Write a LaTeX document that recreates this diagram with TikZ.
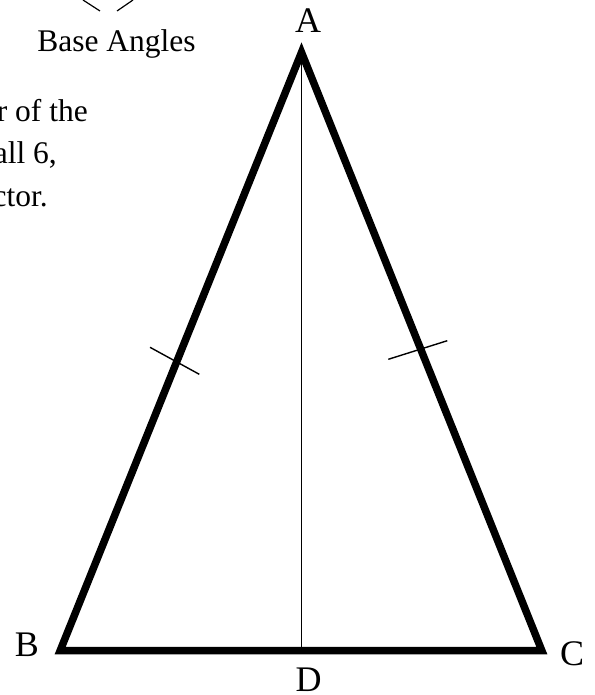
\documentclass[tikz,border=0pt]{standalone}
\usepackage{fontspec}
\setmainfont{Liberation Serif}
\newcommand{\lblfont}{\fontsize{36}{40}\selectfont}
\newcommand{\txtfont}{\fontsize{31.5}{42}\selectfont}

\begin{document}
\begin{tikzpicture}[x=1pt,y=-1pt]
\useasboundingbox (0,0) rectangle (594,695);
\coordinate (A) at (301.5,52.4); \coordinate (B) at (60.2,650.5); \coordinate (C) at (541.8,650.5); \coordinate (D) at (301.5,650.5);
\draw[line width=1.4pt] (A) -- (D);
\draw[line width=7.5pt,miter limit=10] (A) -- (B) -- (C) -- cycle;
\draw[line width=1.4pt] (150,347.3) -- (199.3,374.3); \draw[line width=1.4pt] (388.3,359.3) -- (447.3,340.7);
\node[font=\lblfont,anchor=base,inner sep=0pt] (lblA) at (308,33) {A};
\node[font=\lblfont,anchor=base,inner sep=0pt] (lblB) at (27,656) {B};
\node[font=\lblfont,anchor=base,inner sep=0pt] (lblC) at (572,665) {C};
\node[font=\lblfont,anchor=base,inner sep=0pt] (lblD) at (308.5,691.5) {D};
% top of the note
\draw[line width=1.2pt] (83,0) -- (100,11); \draw[line width=1.2pt] (117,11) -- (133,0);
\node[font=\txtfont,anchor=base,inner sep=0pt] (base) at (116.5,51.7) {Base Angles};
\node[font=\txtfont,anchor=base east,inner sep=0pt] (t1) at (88,122) {r of the};
\node[font=\txtfont,anchor=base east,inner sep=0pt] (t2) at (57,164) {all 6,};
\node[font=\txtfont,anchor=base east,inner sep=0pt] (t3) at (48,206) {ctor.};
\end{tikzpicture}
\end{document}
